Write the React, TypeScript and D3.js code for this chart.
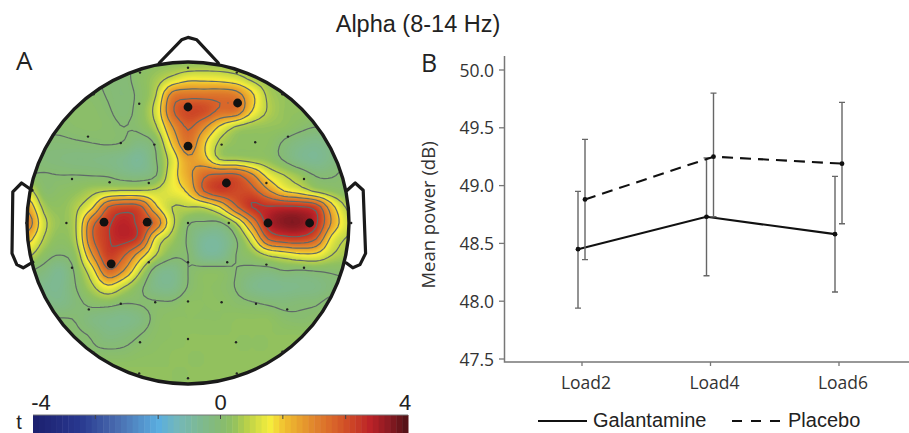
import React from 'react';
import * as d3 from 'd3';

// t values of the scalp map on a 21 x 21 head grid (top row first)
const tGrid = [
  [.1, .1, .1, .1, .05, 0, -.05, .1, .2, .25, .25, .3, .3, .25, .2, .2, .2, .2, .2, .2, .2],
  [.1, .1, .1, .1, .05, -.05, -.08, .15, .4, .75, 1.05, 1.05, 1.0, .85, .5, .3, .25, .2, .2, .2, .2],
  [.1, .1, .1, .1, .08, -.02, -.1, .1, .6, 2.0, 2.2, 2.2, 2.2, 2.05, 1.3, .5, .3, .25, .25, .2, .2],
  [.1, .1, .1, .12, .12, .03, -.08, .15, .8, 2.3, 2.75, 2.7, 2.3, 2.2, 1.2, .55, .3, .25, .2, .2, .2],
  [.05, .05, .05, .1, .12, .08, 0, .1, .55, 1.75, 2.45, 1.9, 1.1, .55, .35, .3, .25, .1, 0, .05, .1],
  [-.05, -.05, -.05, -.03, 0, .03, -.02, -.2, .1, 1.3, 2.2, 1.3, .5, .25, .25, .2, -.05, -.25, -.35, -.2, -.1],
  [0, -.1, -.15, -.2, -.2, -.25, -.35, -.5, -.02, .85, 1.7, 1.4, .55, .45, .35, .25, -.05, -.35, -.45, -.25, 0],
  [.02, .02, 0, 0, -.02, -.05, -.2, -.25, -.02, .95, 1.6, 2.3, 2.5, 2.5, 1.9, 1.0, .6, .3, -.03, -.03, .1],
  [.8, .1, .15, .25, .45, .6, .65, .65, .7, .95, 1.3, 2.4, 2.85, 2.75, 2.6, 1.9, 1.2, .9, .5, .25, .1],
  [1.6, .45, .25, .5, 1.1, 2.4, 2.7, 2.55, 1.3, .6, .6, .65, 1.2, 2.3, 3.0, 3.05, 3.1, 3.05, 2.75, 1.4, .5],
  [2.1, .75, .3, .6, 2.2, 2.9, 3.2, 2.85, 2.2, .75, .05, -.05, -.05, .6, 1.9, 3.2, 3.6, 3.6, 3.1, 1.7, .75],
  [1.4, .55, .2, .55, 2.3, 2.95, 3.15, 2.75, 1.0, .4, -.05, -.5, -.5, -.02, .9, 2.4, 2.75, 2.8, 2.4, 1.0, .55],
  [.7, .2, 0, .3, 1.75, 2.85, 2.45, 1.5, .6, .1, 0, -.45, -.45, 0, .25, .65, .85, 1.05, 1.05, .6, .4],
  [0, -.15, -.4, .1, .95, 2.3, 1.75, .65, -.2, -.35, 0, .15, .15, 0, -.1, -.15, -.02, -.05, .01, .05, .1],
  [-.1, -.35, -.4, 0, .5, 1.05, .6, .1, -.3, -.35, .02, .2, .15, -.02, -.3, -.4, -.35, -.3, -.25, -.1, -.05],
  [-.1, -.2, -.3, -.1, .1, .15, .02, .03, .05, .05, .2, .2, .2, .1, .03, -.05, -.1, -.05, -.03, .1, .1],
  [.05, .02, .02, -.02, -.2, -.3, -.35, -.2, .1, .2, .2, .2, .2, .25, .25, .25, .1, .05, .1, .15, .15],
  [.1, .1, .1, .05, -.03, -.2, -.15, 0, .15, .2, .25, .25, .25, .25, .25, .25, .25, .25, .2, .2, .2],
  [.2, .2, .2, .1, .05, .03, .05, .15, .2, .25, .25, .25, .25, .25, .25, .25, .25, .25, .25, .25, .25],
  [.25, .25, .25, .25, .25, .25, .25, .25, .25, .25, .25, .25, .25, .25, .25, .25, .25, .25, .25, .25, .25],
  [.25, .25, .25, .25, .25, .25, .25, .25, .25, .25, .25, .25, .25, .25, .25, .25, .25, .25, .25, .25, .25],
];

const contourLevels = [0, .6, 1.2, 1.8, 2.4, 3.0];

// electrodes in head units, x to the right and y up, -10..10
const smallSites = [
  [-3, 9.4], [0, 9.7], [-3.05, 7.45], [-6.25, 5.4], [-4.2, 5], [-2.1, 4.9], [-7.25, 2.75], [-4.9, 2.55], [-2.45, 2.5],
  [-10.1, 0], [-7.6, 0], [0, 0], [-5.9, 8.05], [3.05, 9.4], [6.25, 5.4], [4.2, 5.05], [2.1, 4.9], [4.9, 2.5], [7.25, 2.75],
  [5.9, 8.05], [2.55, 0], [10.2, 0], [-7.25, -2.8], [-2.45, -2.45], [0, -2.45], [-6.2, -5.4], [-4.2, -5.05], [-2.05, -4.95],
  [0, -4.9], [-3, -7.45], [0, -7.25], [-5.9, -8.1], [-3.05, -9.4], [0, -9.7], [2.45, -2.45], [4.9, -2.6], [7.25, -2.8],
  [2.1, -4.95], [4.25, -5.05], [6.2, -5.4], [3, -7.45], [5.9, -8.05], [3.05, -9.4],
];
const bigSites = [
  [0, 7.25], [3.1, 7.5], [0, 4.8], [2.4, 2.5], [5, 0], [7.6, 0], [-5.25, .05], [-2.55, .05], [-4.8, -2.55],
];

const noseOutline = [[-1.8, 10], [-.4, 11.45], [0, 11.6], [.55, 11.45], [1.9, 10]];
const leftEar = [[-9.75, 2.05], [-10.4, 2.5], [-10.95, 1.95], [-11, -1.9], [-10.7, -2.6], [-10.3, -2.8], [-9.7, -2.45]];
const rightEar = [[9.95, 2.05], [10.45, 2.5], [10.95, 2.05], [11.1, -1.9], [10.75, -2.6], [10.3, -2.8], [9.9, -2.5]];

// colour bar stops
const colourStops = [-4, -3, -2.2, -1.33, -.9, -.45, 0, .25, .55, 1.05, 1.35, 2, 2.4, 2.8, 3.2, 3.6, 4];
const colourValues = ['#1c1f6e', '#28388f', '#4a6db0', '#5aaee0', '#74b8b8', '#7db993', '#86bb72', '#8fc060', '#b8d04a', '#f5ee3c',
  '#f0c030', '#e0842c', '#d9652a', '#cc4426', '#bb2228', '#8a1a22', '#4d1015'];
const barTicks = [-2.67, -1.33, 0, 1.33, 2.67];
const barLabels = ['-4', '0', '4'];

// panel B
const loads = ['Load2', 'Load4', 'Load6'];
const powerTicks = [47.5, 48, 48.5, 49, 49.5, 50];
const galantamine = [48.45, 48.73, 48.58];
const galantamineHigh = [48.95, 49.24, 49.08];
const galantamineLow = [47.94, 48.22, 48.08];
const placebo = [48.88, 49.25, 49.19];
const placeboHigh = [49.40, 49.80, 49.72];
const placeboLow = [48.36, 48.73, 48.67];

const WIDTH = 909;
const HEIGHT = 433;

const ALPHA_FONT = '"Liberation Sans", Arial, sans-serif';
const AXIS_FONT = '"Open Sans", sans-serif';

// Catmull-Rom upsampling so the contours come out smooth
function cubic(a: number, b: number, c: number, d: number, t: number) {
  return b + 0.5 * t * (c - a + t * (2 * a - 5 * b + 4 * c - d + t * (3 * (b - c) + d - a)));
}
function upsample(grid: number[][], f: number) {
  const n = grid.length;
  const size = (n - 1) * f + 1;
  const at = (r: number, c: number) => grid[Math.max(0, Math.min(n - 1, r))][Math.max(0, Math.min(n - 1, c))];
  const out: number[] = [];
  for (let j = 0; j < size; j++) {
    const r = Math.min(Math.floor(j / f), n - 2);
    const v = j / f - r;
    for (let i = 0; i < size; i++) {
      const c = Math.min(Math.floor(i / f), n - 2);
      const u = i / f - c;
      const rowVal = (rr: number) => cubic(at(rr, c - 1), at(rr, c), at(rr, c + 1), at(rr, c + 2), u);
      out.push(cubic(rowVal(r - 1), rowVal(r), rowVal(r + 1), rowVal(r + 2), v));
    }
  }
  return { values: out, size };
}

function ScalpMap() {
  const x = d3.scaleLinear().domain([-10, 10]).range([28, 348]);
  const y = d3.scaleLinear().domain([-10, 10]).range([383, 63]);
  const r = x(10) - x(0) + 1;
  const cx = x(0);
  const cy = y(0);
  const colour = d3.scaleLinear<string>().domain(colourStops).range(colourValues).clamp(true);

  const { values, size } = upsample(tGrid, 4);
  const ux = d3.scaleLinear().domain([0, size - 1]).range([28, 348]);
  const uy = d3.scaleLinear().domain([0, size - 1]).range([63, 383]);
  const path = d3.geoPath(d3.geoTransform({
    point(px, py) { this.stream.point(ux(px - 0.5), uy(py - 0.5)); },
  }));
  const bands = d3.contours().size([size, size]).thresholds(d3.range(-4, 4, 0.05))(values);
  const lines = d3.contours().size([size, size]).thresholds(contourLevels)(values);
  const outline = d3.line().x(d => x(d[0])).y(d => y(d[1]));

  return (
    <g>
      <defs>
        <clipPath id="head"><circle cx={cx} cy={cy} r={r} /></clipPath>
      </defs>
      <g clipPath="url(#head)">
        <rect x={cx - r} y={cy - r} width={2 * r} height={2 * r} fill={colour(0.2)} />
        {bands.map(b => <path key={b.value} d={path(b) ?? ''} fill={colour(b.value + 0.025)} stroke="none" />)}
        {lines.map(l => <path key={l.value} d={path(l) ?? ''} fill="none" stroke="#5f6a68" strokeWidth={1.2} />)}
      </g>
      {[noseOutline, leftEar, rightEar].map((o, i) => (
        <path key={i} d={outline(o as [number, number][]) ?? ''} fill="none" stroke="#1a1a1a" strokeWidth={3.2} strokeLinejoin="round" strokeLinecap="round" />
      ))}
      <circle cx={cx} cy={cy} r={r} fill="none" stroke="#1a1a1a" strokeWidth={3.4} />
      {smallSites.map((s, i) => <circle key={i} cx={x(s[0])} cy={y(s[1])} r={1.2} fill="#222" />)}
      {bigSites.map((s, i) => <circle key={i} cx={x(s[0])} cy={y(s[1])} r={4.4} fill="#111" />)}
      <ColourBar colour={colour} />
    </g>
  );
}

function ColourBar({ colour }: { colour: (v: number) => string }) {
  const bar = d3.scaleLinear().domain([-4, 4]).range([33, 408]);
  const cells = d3.range(-4, 4, 0.125);
  return (
    <g>
      {cells.map(c => (
        <rect key={c} x={bar(c)} y={415} width={bar(c + 0.125) - bar(c) + 0.5} height={18} fill={colour(c + 0.06)} />
      ))}
      <line x1={33} x2={408} y1={415} y2={415} stroke="#777" strokeWidth={1} />
      {barTicks.map(t => <line key={t} x1={bar(t)} x2={bar(t)} y1={415} y2={419} stroke="#444" strokeWidth={1} />)}
      {barLabels.map(l => (
        <text key={l} x={bar(+l) + (+l < 0 ? 8 : +l > 0 ? -3 : 0)} y={410} textAnchor="middle" fontFamily={ALPHA_FONT} fontSize={22} fill="#222">{l}</text>
      ))}
      <text x={19} y={428.5} textAnchor="middle" fontFamily={ALPHA_FONT} fontSize={20} fill="#222">t</text>
    </g>
  );
}

function PowerPlot() {
  const x = d3.scalePoint<string>().domain(loads).range([582, 839]);
  const y = d3.scaleLinear().domain([47.5, 50]).range([359, 70]);
  const line = d3.line<number>().x((_, i) => x(loads[i])!).y(d => y(d));
  const series = [
    { name: 'Galantamine', mean: galantamine, high: galantamineHigh, low: galantamineLow, shift: -4, dash: undefined },
    { name: 'Placebo', mean: placebo, high: placeboHigh, low: placeboLow, shift: 3, dash: '11 7' },
  ];
  return (
    <g>
      <path d="M504.5 56V362H909" fill="none" stroke="#777" strokeWidth={1.5} />
      {powerTicks.map(t => (
        <g key={t}>
          <line x1={499} x2={504} y1={y(t)} y2={y(t)} stroke="#777" strokeWidth={1.3} />
          <text x={494} y={y(t) + 6.5} textAnchor="end" fontFamily={AXIS_FONT} fontSize={17.5} fill="#333">{t.toFixed(1)}</text>
        </g>
      ))}
      {loads.map(l => (
        <g key={l}>
          <line x1={x(l)} x2={x(l)} y1={362} y2={366} stroke="#777" strokeWidth={1.3} />
          <text x={x(l)! + 4} y={389} textAnchor="middle" fontFamily={AXIS_FONT} fontSize={17.5} fill="#333">{l}</text>
        </g>
      ))}
      <text transform="translate(435,215) rotate(-90)" textAnchor="middle" fontFamily={AXIS_FONT} fontSize={18.5} fill="#333">Mean power (dB)</text>
      {series.map(s => (
        <g key={s.name} transform={`translate(${s.shift},0)`}>
          {loads.map((l, i) => (
            <path key={l} fill="none" stroke="#666" strokeWidth={1.4}
              d={`M${x(l)! - 3} ${y(s.high[i])}H${x(l)! + 3}M${x(l)} ${y(s.high[i])}V${y(s.low[i])}M${x(l)! - 3} ${y(s.low[i])}H${x(l)! + 3}`} />
          ))}
          <path d={line(s.mean) ?? ''} fill="none" stroke="#111" strokeWidth={2.1} strokeDasharray={s.dash} />
          {loads.map((l, i) => <circle key={l} cx={x(l)} cy={y(s.mean[i])} r={2.4} fill="#111" />)}
        </g>
      ))}
      <line x1={538} x2={587} y1={421} y2={421} stroke="#111" strokeWidth={2} />
      <text x={593} y={427} fontFamily={ALPHA_FONT} fontSize={20} fill="#222">Galantamine</text>
      <line x1={732} x2={782} y1={421} y2={421} stroke="#111" strokeWidth={2} strokeDasharray="10 9" />
      <text x={788} y={427} fontFamily={ALPHA_FONT} fontSize={20} fill="#222">Placebo</text>
    </g>
  );
}

export default function App() {
  return (
    <svg width={WIDTH} height={HEIGHT} style={{ position: 'absolute', left: 0, top: 0, display: 'block', background: '#fff' }}>
      <text x={418} y={32} textAnchor="middle" fontFamily={ALPHA_FONT} fontSize={23.5} fill="#222">Alpha (8-14 Hz)</text>
      <text x={16} y={70} fontFamily={AXIS_FONT} fontSize={26} fill="#222">A</text>
      <text x={421} y={72} fontFamily={AXIS_FONT} fontSize={25} fill="#222">B</text>
      <ScalpMap />
      <PowerPlot />
    </svg>
  );
}
